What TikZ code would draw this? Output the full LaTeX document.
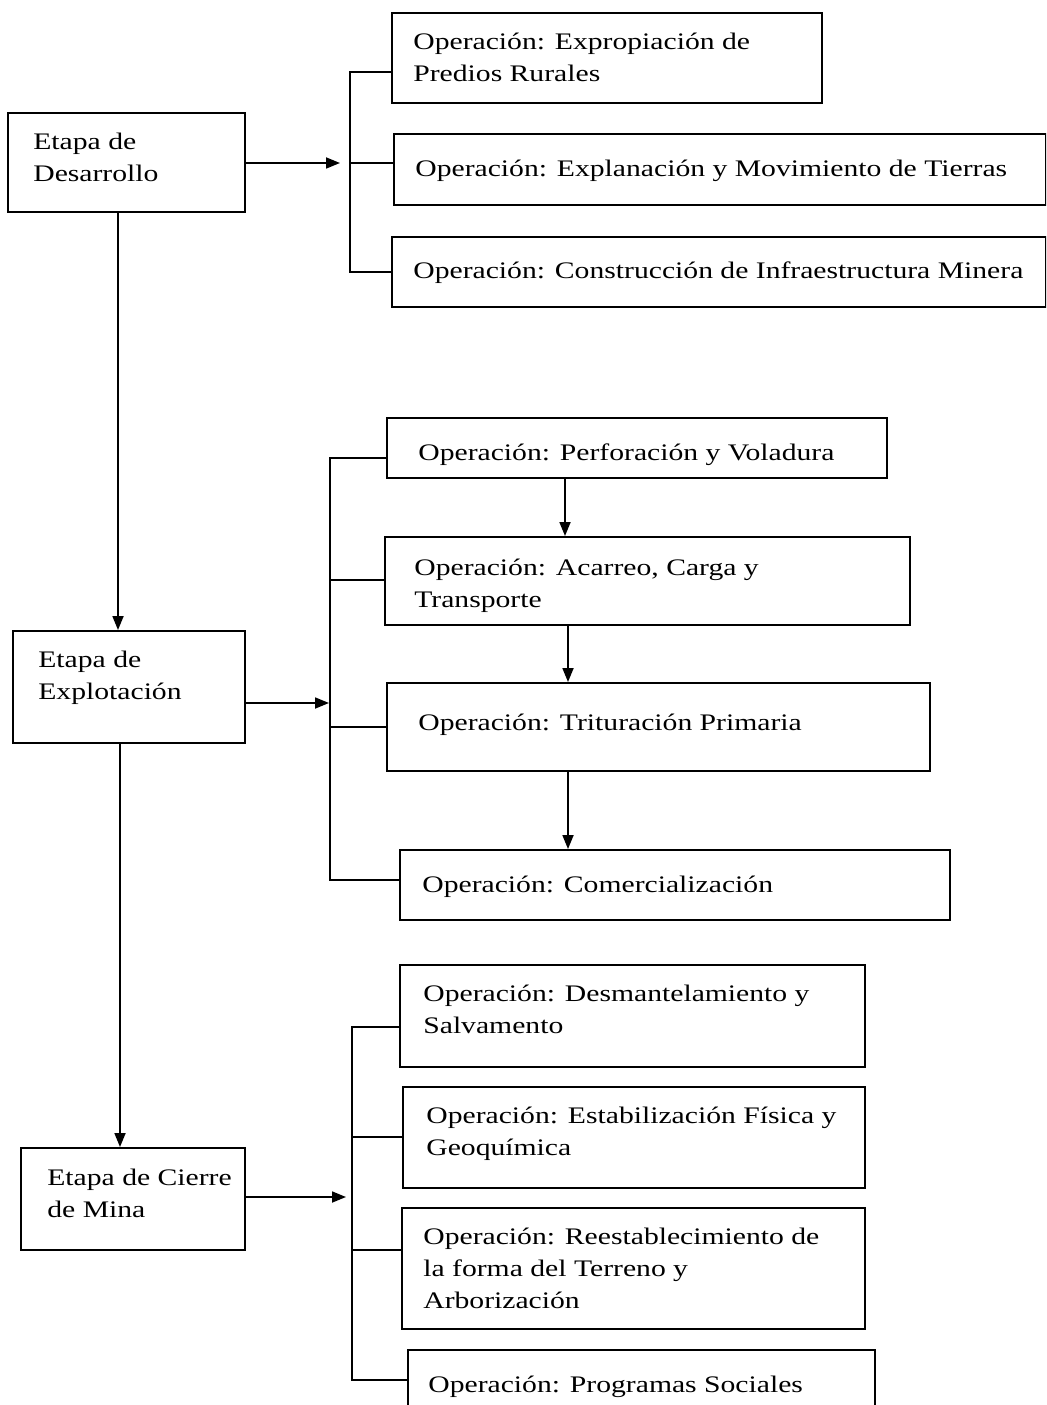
\documentclass[tikz,border=0pt]{standalone}
\usepackage{fontspec}
\setmainfont{Liberation Serif}[FakeStretch=1.25]
\usetikzlibrary{arrows.meta,fit}

\tikzset{
    box/.style={draw, line width=1.1pt, inner sep=0pt},
    lbl/.style={anchor=north west, inner sep=0pt, align=left,
        font=\fontsize{13.5}{18.2}\selectfont, execute at begin node=\strut},
    link/.style={line width=1pt},
    arr/.style={line width=1pt, -{Triangle[length=0.28cm, width=0.22cm]}},
}

\begin{document}
\begin{tikzpicture}[x=0.02cm, y=-0.02cm]
    \useasboundingbox (0,0) rectangle (1046,1405);
    \clip (0,0) rectangle (1046,1405);

    % Stage boxes
    \node[box, fit={(8,113) (245,212)}] (des) {};
    \node[lbl] (desT) at (33,132.6) {Etapa de\\Desarrollo};
    \node[box, fit={(13,631) (245,743)}] (expl) {};
    \node[lbl] (explT) at (38,650.6) {Etapa de\\Explotación};
    \node[box, fit={(21,1148) (245,1250)}] (cie) {};
    \node[lbl] (cieT) at (47,1168.6) {Etapa de Cierre\\de Mina};

    % Development operations
    \node[box, fit={(392,13) (822,103)}] (b1) {};
    \node[lbl] (b1T) at (413,32.6) {Operación: Expropiación de\\Predios Rurales};
    \node[box, fit={(394,134) (1046,205)}] (b2) {};
    \node[lbl] (b2T) at (415,153.6) {Operación: Explanación y Movimiento de Tierras};
    \node[box, fit={(392,237) (1046,307)}] (b3) {};
    \node[lbl] (b3T) at (413,255.6) {Operación: Construcción de Infraestructura Minera};

    % Exploitation operations
    \node[box, fit={(387,418) (887,478)}] (c1) {};
    \node[lbl] (c1T) at (418,437.6) {Operación: Perforación y Voladura};
    \node[box, fit={(385,537) (910,625)}] (c2) {};
    \node[lbl] (c2T) at (414,558.6) {Operación: Acarreo, Carga y\\Transporte};
    \node[box, fit={(387,683) (930,771)}] (c3) {};
    \node[lbl] (c3T) at (418,707.6) {Operación: Trituración Primaria};
    \node[box, fit={(400,850) (950,920)}] (c4) {};
    \node[lbl] (c4T) at (422,869.6) {Operación: Comercialización};

    % Closure operations
    \node[box, fit={(400,965) (865,1067)}] (d1) {};
    \node[lbl] (d1T) at (423,984.6) {Operación: Desmantelamiento y\\Salvamento};
    \node[box, fit={(403,1087) (865,1188)}] (d2) {};
    \node[lbl] (d2T) at (426,1106.6) {Operación: Estabilización Física y\\Geoquímica};
    \node[box, fit={(402,1208) (865,1329)}] (d3) {};
    \node[lbl] (d3T) at (423,1227.6) {Operación: Reestablecimiento de\\la forma del Terreno y\\Arborización};
    \node[box, fit={(408,1350) (875,1430)}] (d4) {};
    \node[lbl] (d4T) at (428,1369.6) {Operación: Programas Sociales};

    % Stage to stage
    \draw[arr] ([xshift=-0.17cm]des.south) -- ([xshift=-0.17cm]des.south |- expl.north);
    \draw[arr] ([xshift=-0.18cm]expl.south) -- ([xshift=-0.18cm]expl.south |- cie.north);

    % Brackets
    \coordinate (k1) at (340,163);
    \coordinate (k2) at (329,703);
    \coordinate (k3) at (346,1197);
    \draw[arr] (des.east |- k1) -- (k1);
    \draw[arr] (expl.east |- k2) -- (k2);
    \draw[arr] (cie.east |- k3) -- (k3);

    \draw[link] (b1.west |- 0,72) -- (350,72) -- (350,272) -- (b3.west |- 0,272);
    \draw[link] (350,163) -- (b2.west |- 0,163);

    \draw[link] (c1.west |- 0,458) -- (330,458) -- (330,880) -- (c4.west |- 0,880);
    \draw[link] (330,580) -- (c2.west |- 0,580);
    \draw[link] (330,727) -- (c3.west |- 0,727);

    \draw[link] (d1.west |- 0,1027) -- (352,1027) -- (352,1380) -- (d4.west |- 0,1380);
    \draw[link] (352,1137) -- (d2.west |- 0,1137);
    \draw[link] (352,1250) -- (d3.west |- 0,1250);

    % Sequence of exploitation
    \draw[arr] (c1.south -| 565,0) -- (c2.north -| 565,0);
    \draw[arr] (c2.south -| 568,0) -- (c3.north -| 568,0);
    \draw[arr] (c3.south -| 568,0) -- (c4.north -| 568,0);
\end{tikzpicture}
\end{document}
